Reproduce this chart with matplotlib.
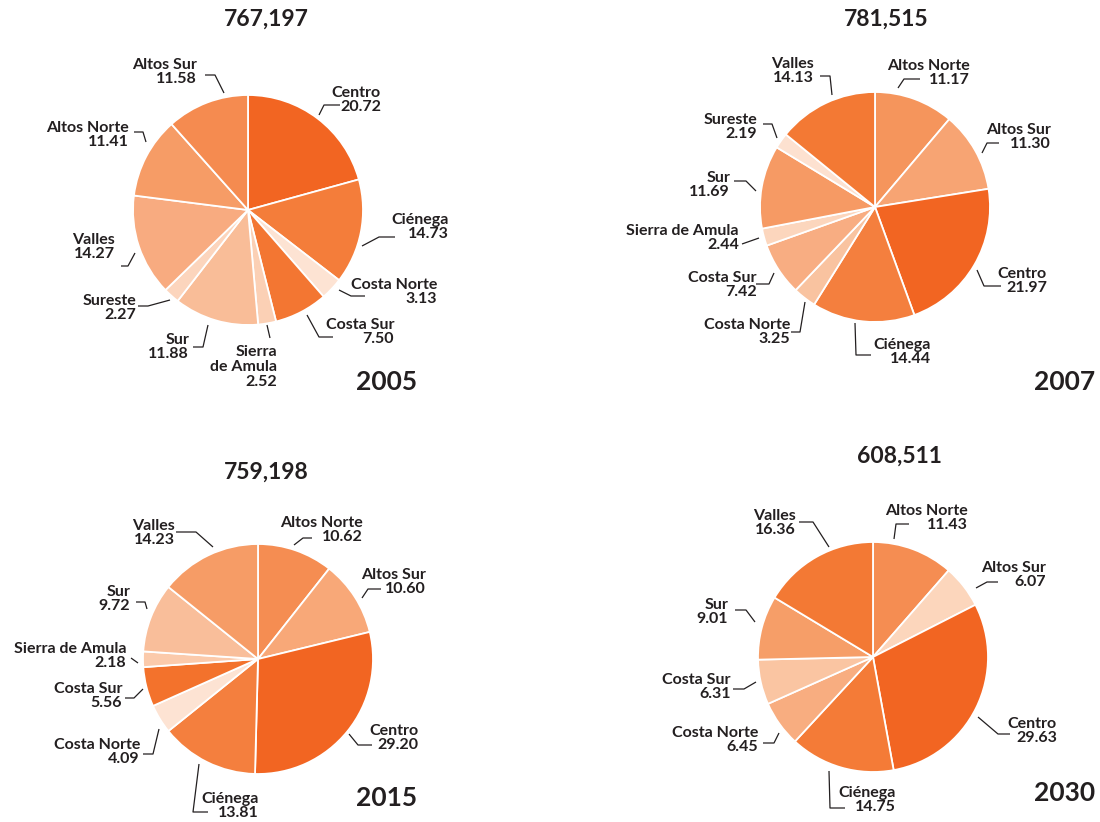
import matplotlib
matplotlib.use("Agg")
import matplotlib.pyplot as plt

plt.rcParams['font.family'] = ['Lato', 'DejaVu Sans']

W, H = 1100, 822
INK = '#231F20'

# ---------------- data: share of population by region (%) ----------------
regions_2005 = ["Centro", "Ciénega", "Costa Norte", "Costa Sur", "Sierra de Amula",
                "Sur", "Sureste", "Valles", "Altos Norte", "Altos Sur"]
shares_2005 = [20.72, 14.73, 3.13, 7.50, 2.52, 11.88, 2.27, 14.27, 11.41, 11.58]
total_2005 = 767197

regions_2007 = ["Altos Norte", "Altos Sur", "Centro", "Ciénega", "Costa Norte",
                "Costa Sur", "Sierra de Amula", "Sur", "Sureste", "Valles"]
shares_2007 = [11.17, 11.30, 21.97, 14.44, 3.25, 7.42, 2.44, 11.69, 2.19, 14.13]
total_2007 = 781515

regions_2015 = ["Altos Norte", "Altos Sur", "Centro", "Ciénega", "Costa Norte",
                "Costa Sur", "Sierra de Amula", "Sur", "Valles"]
shares_2015 = [10.62, 10.60, 29.20, 13.81, 4.09, 5.56, 2.18, 9.72, 14.23]
total_2015 = 759198

regions_2030 = ["Altos Norte", "Altos Sur", "Centro", "Ciénega", "Costa Norte",
                "Costa Sur", "Sur", "Valles"]
shares_2030 = [11.43, 6.07, 29.63, 14.75, 6.45, 6.31, 9.01, 16.36]
total_2030 = 608511

years = ["2005", "2007", "2015", "2030"]

# ---------------- styles ----------------
colors_2005 = ["#F26522", "#F47D3A", "#FDE3D3", "#F37632", "#FBD0B5",
               "#F9BD98", "#FCD5BD", "#F8AB80", "#F69C66", "#F58B50"]
colors_2007 = ["#F5955C", "#F7A473", "#F26522", "#F47F3E", "#F9C3A0",
               "#F8AD82", "#FCD6BD", "#F69A64", "#FDE1D0", "#F37934"]
colors_2015 = ["#F58D52", "#F8A878", "#F26522", "#F47F3E", "#FDE3D3",
               "#F3722C", "#FBCAAB", "#F9BE9A", "#F69C66"]
colors_2030 = ["#F58D52", "#FCD6BC", "#F26522", "#F47B37", "#F8AD80",
               "#FAC5A2", "#F69E68", "#F37934"]

# ---------------- layout (pixel positions, y measured from top) ----------------
RADIUS = 115
layout = {
    "2005": dict(center=(248, 210), title=(266, 19), year=(387, 382),
                 wrap={"Sierra de Amula": "Sierra\nde Amula"},
                 labels=[
                     (381, 100, [(319, 115), (324, 105), (340, 105)]),
                     (449, 227, [(362, 246), (379, 237), (395, 237)]),
                     (437, 292, [(339, 290), (351, 296), (365, 296)]),
                     (394, 332, [(307, 315), (319, 337), (333, 337)]),
                     (277, 367, [(267, 325), (270, 338)]),
                     (189, 347, [(208, 325), (203, 347), (193, 347)]),
                     (136, 308, [(170, 300), (148, 306), (138, 306)]),
                     (115, 247, [(135, 253), (128, 266), (121, 266)]),
                     (129, 135, [(146, 142), (143, 132), (134, 132)]),
                     (197, 72, [(224, 93), (215, 75), (205, 75)]),
                 ]),
    "2007": dict(center=(875, 207), title=(886, 19), year=(1065, 382), wrap={},
                 labels=[
                     (970, 73, [(898, 88), (904, 79), (920, 79)]),
                     (1051, 137, [(982, 153), (987, 143), (999, 143)]),
                     (1047, 281, [(977, 270), (984, 286), (1001, 286)]),
                     (931, 352, [(855, 323), (856, 355), (871, 355)]),
                     (790, 332, [(805, 302), (800, 332), (791, 332)]),
                     (757, 285, [(774, 273), (769, 284), (756, 284)]),
                     (739, 238, [(759, 238), (742, 244)]),
                     (730, 185, [(756, 191), (746, 181), (734, 181)]),
                     (757, 127, [(777, 138), (772, 124), (763, 124)]),
                     (814, 71, [(832, 95), (830, 76), (820, 76)]),
                 ]),
    "2015": dict(center=(258, 659), title=(266, 472), year=(387, 798), wrap={},
                 labels=[
                     (363, 530, [(294, 545), (303, 538), (312, 538)]),
                     (426, 582, [(362, 598), (368, 589), (381, 589)]),
                     (418, 738, [(349, 734), (358, 745), (372, 745)]),
                     (259, 806, [(199, 764), (193, 812), (208, 812)]),
                     (140, 752, [(159, 729), (153, 754), (143, 754)]),
                     (122, 696, [(143, 689), (134, 698), (125, 698)]),
                     (126, 656, [(138, 663), (131, 658)]),
                     (130, 599, [(147, 609), (145, 602), (136, 602)]),
                     (175, 533, [(213, 547), (196, 532), (176, 532)]),
                 ]),
    "2030": dict(center=(873, 657), title=(899, 456), year=(1065, 793), wrap={},
                 labels=[
                     (968, 518, [(894, 539), (896, 524), (909, 524)]),
                     (1046, 575, [(976, 588), (987, 582), (998, 582)]),
                     (1057, 731, [(978, 717), (998, 734), (1010, 734)]),
                     (896, 800, [(829, 771), (830, 808), (845, 808)]),
                     (758, 740, [(779, 733), (774, 743), (763, 743)]),
                     (731, 687, [(756, 682), (744, 689), (733, 689)]),
                     (728, 612, [(755, 622), (746, 610), (735, 610)]),
                     (796, 523, [(829, 547), (813, 522), (799, 522)]),
                 ]),
}

charts = {
    "2005": (regions_2005, shares_2005, total_2005, colors_2005),
    "2007": (regions_2007, shares_2007, total_2007, colors_2007),
    "2015": (regions_2015, shares_2015, total_2015, colors_2015),
    "2030": (regions_2030, shares_2030, total_2030, colors_2030),
}

fig = plt.figure(figsize=(W / 100, H / 100), dpi=100)
ax = fig.add_axes([0, 0, 1, 1])


def fy(y):
    return H - y


for yr in years:
    regions, shares, total, colors = charts[yr]
    lay = layout[yr]
    cx, cy = lay["center"]
    ax.pie(shares, colors=colors, startangle=90, counterclock=False,
           center=(cx, fy(cy)), radius=RADIUS,
           wedgeprops=dict(edgecolor="white", linewidth=1.3))

    for name, val, (tx, ty, pts) in zip(regions, shares, lay["labels"]):
        shown = lay["wrap"].get(name, name)
        ax.text(tx, fy(ty), f"{shown}\n{val:.2f}", ha="right", va="center",
                ma="right", fontsize=11.5, fontweight="bold", color=INK,
                linespacing=1.08)
        xs = [p[0] for p in pts]
        ys = [fy(p[1]) for p in pts]
        ax.plot(xs, ys, color=INK, lw=0.9, solid_capstyle="butt")

    ax.text(lay["title"][0], fy(lay["title"][1]), f"{total:,}", ha="center",
            va="center", fontsize=16.5, fontweight="bold", color=INK)
    ax.text(lay["year"][0], fy(lay["year"][1]), yr, ha="center", va="center",
            fontsize=19, fontweight="bold", color=INK)

ax.set_xlim(0, W)
ax.set_ylim(0, H)
ax.set_aspect("equal")
ax.axis("off")

fig.savefig("out.png", dpi=100, facecolor="white")
